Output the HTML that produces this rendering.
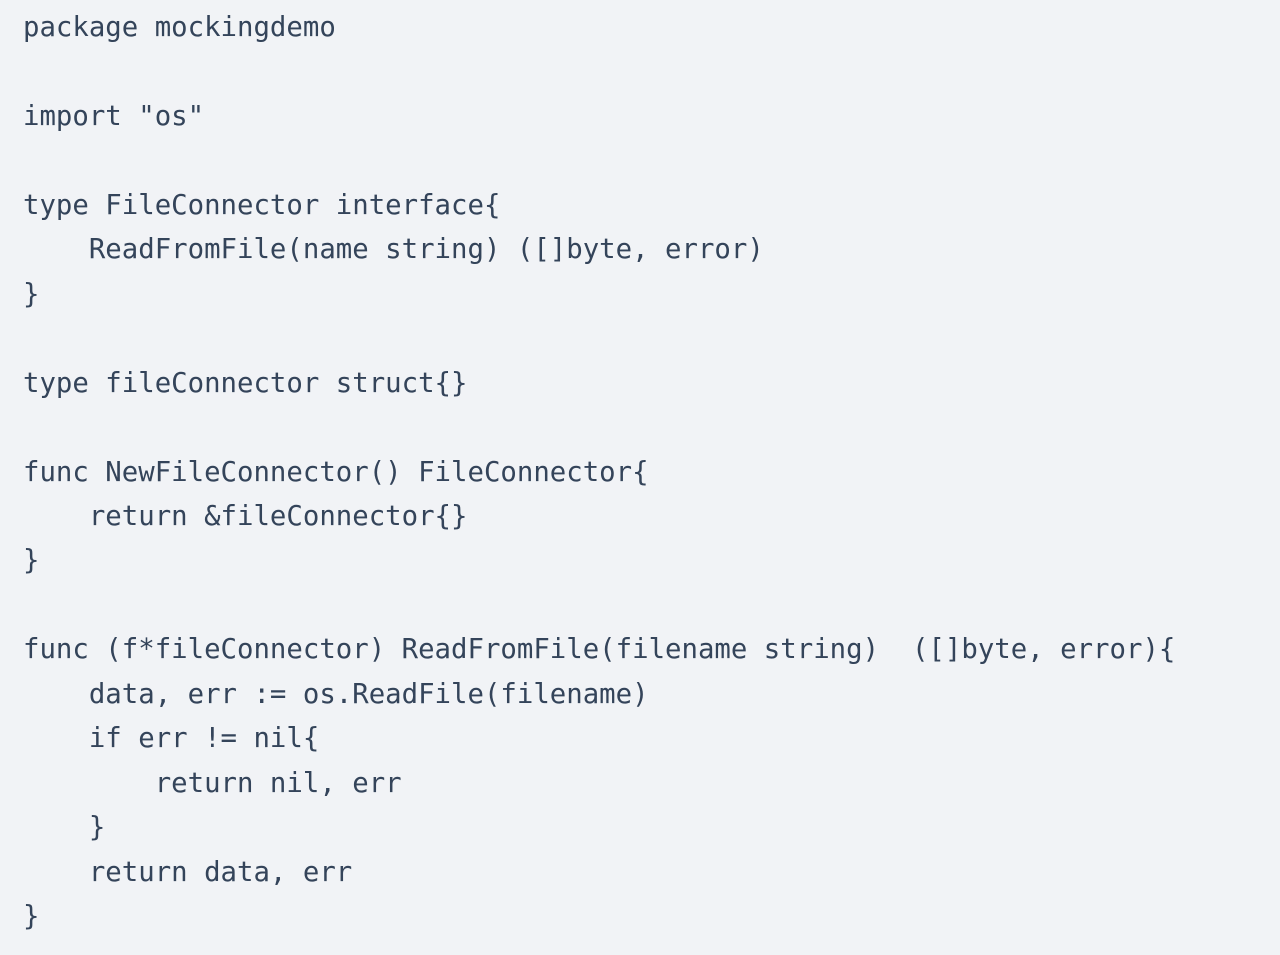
<!DOCTYPE html>
<html><head><meta charset="utf-8"><style>
html,body{margin:0;padding:0;background:#f1f3f6;width:1280px;height:955px;overflow:hidden}
pre{margin:0;padding:6px 0 0 23px;font-family:"DejaVu Sans Mono","Liberation Mono",monospace;font-size:27.35px;line-height:44.45px;color:#34445a;letter-spacing:0}
</style></head><body><pre>package mockingdemo

import "os"

type FileConnector interface{
    ReadFromFile(name string) ([]byte, error)
}

type fileConnector struct{}

func NewFileConnector() FileConnector{
    return &amp;fileConnector{}
}

func (f*fileConnector) ReadFromFile(filename string)  ([]byte, error){
    data, err := os.ReadFile(filename)
    if err != nil{
        return nil, err
    }
    return data, err
}</pre></body></html>
